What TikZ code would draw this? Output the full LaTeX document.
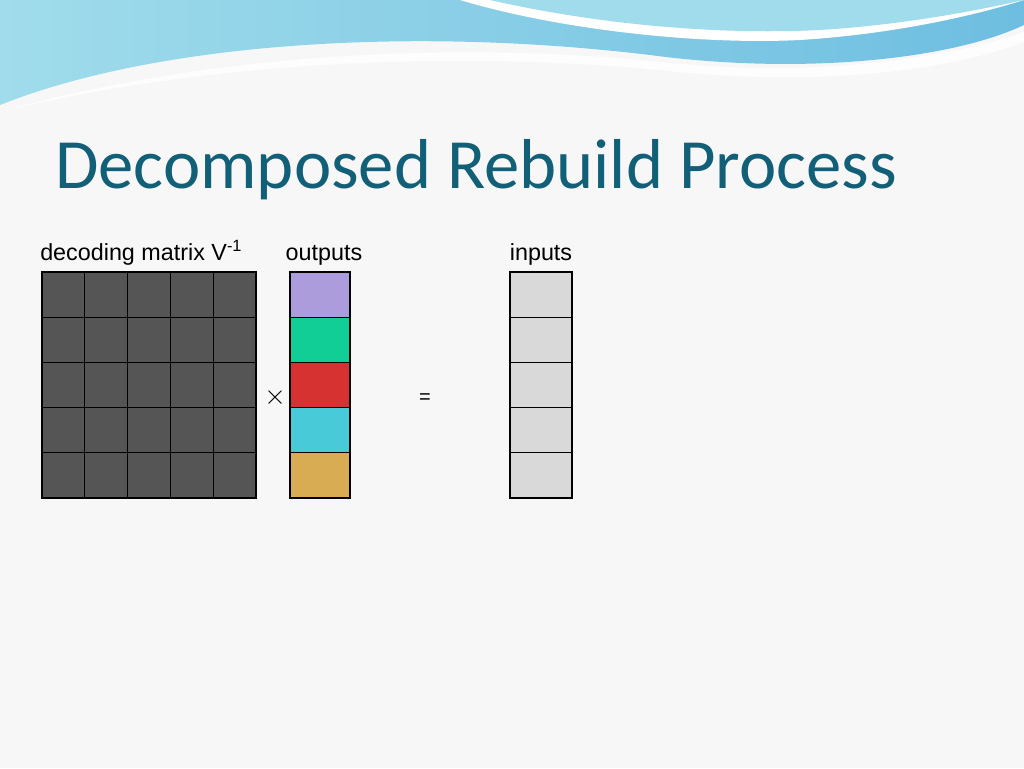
\documentclass[tikz,border=0pt]{standalone}
\usepackage{fontspec}
\setmainfont{Liberation Sans}
\newfontfamily\titlefont{Carlito}
\begin{document}
\begin{tikzpicture}[x=0.75pt,y=-0.75pt,
  cell/.style={draw=black,line width=1pt},
  lbl/.style={font=\fontsize{17.5}{19}\selectfont,anchor=base}]
\definecolor{bg}{RGB}{247,247,248}
\definecolor{titlec}{RGB}{18,95,120}
\definecolor{wave1}{RGB}{110,190,225}
\definecolor{wave2}{RGB}{160,220,235}
\definecolor{dgray}{RGB}{85,85,85}
\definecolor{lgray}{RGB}{217,217,217}
\definecolor{cpur}{RGB}{172,156,220}
\definecolor{cgrn}{RGB}{16,206,150}
\definecolor{cred}{RGB}{214,50,50}
\definecolor{ccyn}{RGB}{72,202,216}
\definecolor{cgld}{RGB}{216,172,82}
\fill[bg] (0,0) rectangle (1024,768);
\useasboundingbox (0,0) rectangle (1024,768);
% top waves
\shade[left color=wave2,right color=wave1] (0,0) -- (0,105) .. controls (150,45) and (400,25) .. (650,55) .. controls (800,75) and (950,60) .. (1024,25) -- (1024,0) -- cycle;
\fill[white,opacity=0.85] (0,112) .. controls (200,55) and (450,40) .. (660,62) .. controls (820,80) and (960,55) .. (1024,32) -- (1024,42) .. controls (950,70) and (820,88) .. (660,70) .. controls (450,50) and (200,62) .. (0,112) -- cycle;
\fill[white] (460,0) .. controls (560,30) and (700,45) .. (800,40) .. controls (880,35) and (960,20) .. (1024,0) -- cycle;
\fill[wave2] (490,0) .. controls (600,25) and (720,35) .. (820,30) .. controls (900,25) and (970,12) .. (1024,0) -- cycle;
% title
\node[anchor=base west,inner sep=0,text=titlec,font=\titlefont\fontsize{53}{58}\selectfont] (title) at (55,188) {Decomposed Rebuild Process};
% labels
\node[lbl,anchor=base west,inner sep=0] (ldec) at (40,260) {decoding matrix V\textsuperscript{-1}};
\node[lbl,inner sep=0] (lout) at (324,260) {outputs};
\node[lbl,inner sep=0] (lin) at (541,260) {inputs};
% matrix
\foreach \i in {0,...,4}{\foreach \j in {0,...,4}{
  \draw[cell,fill=dgray] ({42+\i*42.8},{272+\j*45.2}) rectangle ++(42.8,45.2);}}
\foreach \c [count=\j from 0] in {cpur,cgrn,cred,ccyn,cgld}{
  \draw[cell,fill=\c] (290,{272+\j*45.2}) rectangle ++(60,45.2);
  \draw[cell,fill=lgray] (510,{272+\j*45.2}) rectangle ++(62,45.2);}
\node[font=\fontsize{20}{22}\selectfont] (times) at (275,398) {$\times$};
\node[font=\fontsize{15}{16}\selectfont] (eq) at (425,399) {=};
\end{tikzpicture}
\end{document}
